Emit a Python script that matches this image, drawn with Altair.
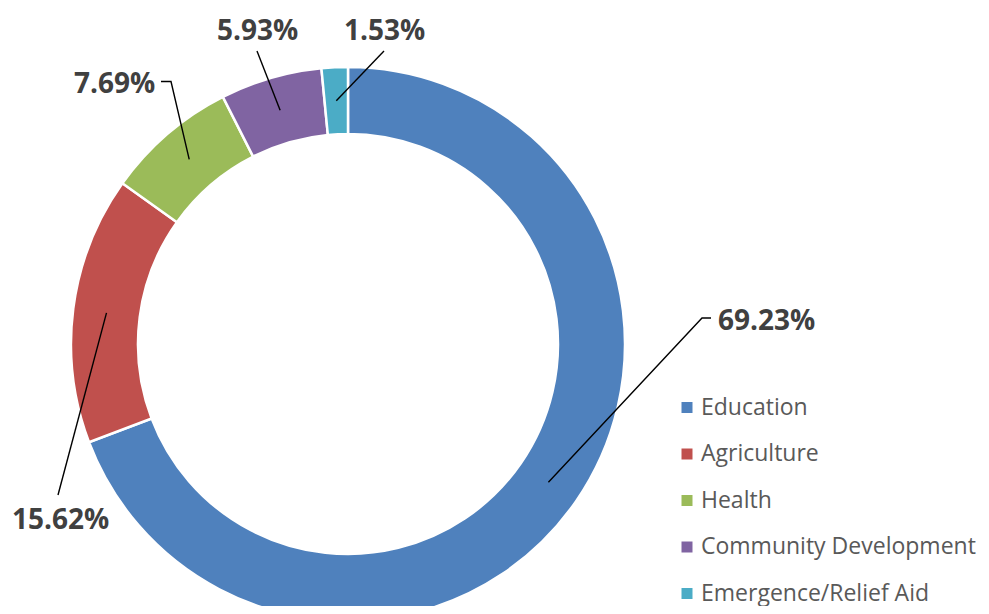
import math
import altair as alt
import pandas as pd

# ---- data ----
categories = ["Education", "Agriculture", "Health", "Community Development", "Emergence/Relief Aid"]
values = [69.23, 15.62, 7.69, 5.93, 1.53]
labels = ["69.23%", "15.62%", "7.69%", "5.93%", "1.53%"]
colors = ["#4F81BD", "#C0504D", "#9BBB59", "#8064A2", "#4BACC6"]

# ---- layout (chart pixels, origin top-left of the view) ----
W, H = 973, 598
CX, CY = 340, 336
R_IN, R_OUT = 210, 277
R_MID = (R_IN + R_OUT) / 2
OFF = 8
# label text: left x, baseline y (page px)
label_xy = [(718, 329.5), (12, 529), (74, 92.5), (217, 39.5), (344, 39.5)]
# leader-line knots from slice outwards to label (page px)
leader_knots = [
    [(702, 318), (711, 318)],
    [(58, 495)],
    [(171, 81.5), (161, 81.5)],
    [(257, 51)],
    [(384, 51)],
]

arc_df = pd.DataFrame({"category": categories, "value": values, "idx": range(len(values))})

total = sum(values)
rows = []
cum = 0.0
for i, (cat, v) in enumerate(zip(categories, values)):
    mid = (cum + v / 2) / total * 2 * math.pi
    cum += v
    pts = [(CX + R_MID * math.sin(mid), CY - R_MID * math.cos(mid))]
    pts += [(x - OFF, y - OFF) for x, y in leader_knots[i]]
    for s, (x, y) in enumerate(pts):
        rows.append({"category": cat, "seq": s, "x": x, "y": y})
line_df = pd.DataFrame(rows)

text_df = pd.DataFrame({
    "label": labels,
    "x": [p[0] - OFF for p in label_xy],
    "y": [p[1] - OFF for p in label_xy],
})

xs = alt.Scale(domain=[0, W], range=[0, W], nice=False, zero=False)
ys = alt.Scale(domain=[0, H], range=[0, H], nice=False, zero=False)

arcs = alt.Chart(arc_df).mark_arc(
    innerRadius=R_IN, outerRadius=R_OUT, stroke="white", strokeWidth=2.5
).encode(
    theta=alt.Theta("value:Q", stack=True),
    order=alt.Order("idx:Q"),
    color=alt.Color(
        "category:N",
        sort=categories,
        scale=alt.Scale(domain=categories, range=colors),
        legend=alt.Legend(
            title=None, orient="none", legendX=667.5, legendY=388,
            symbolType="square", symbolSize=121, symbolStrokeWidth=0,
            labelFont="Open Sans", labelFontSize=23, labelColor="#595959",
            labelLimit=400, rowPadding=22.5, labelOffset=2.5, padding=0,
        ),
    ),
    x=alt.value(CX),
    y=alt.value(CY),
)

lines = alt.Chart(line_df).mark_line(color="black", strokeWidth=1.4).encode(
    x=alt.X("x:Q", scale=xs, axis=None),
    y=alt.Y("y:Q", scale=ys, axis=None),
    detail="category:N",
    order="seq:Q",
)

texts = alt.Chart(text_df).mark_text(
    align="left", baseline="alphabetic", font="Open Sans", fontWeight="bold",
    fontSize=28, color="#404040",
).encode(
    x=alt.X("x:Q", scale=xs, axis=None),
    y=alt.Y("y:Q", scale=ys, axis=None),
    text="label:N",
)

chart = alt.layer(arcs, lines, texts).properties(
    width=W, height=H, autosize=alt.AutoSizeParams(type="none"), padding=0
).configure_view(stroke=None)

chart.save("out.html", embed_options={"renderer": "svg", "actions": False})
